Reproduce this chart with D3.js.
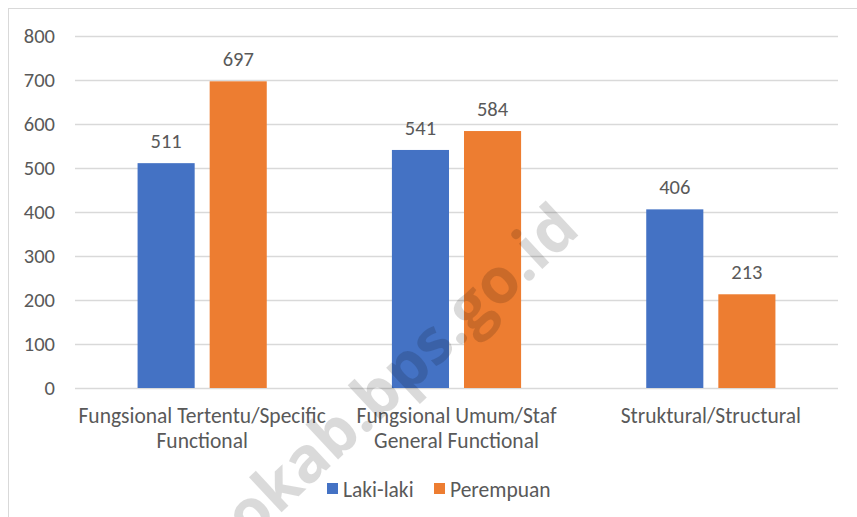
<!DOCTYPE html>
<html>
<head>
<meta charset="utf-8">
<script src="https://cdn.jsdelivr.net/npm/d3@7"></script>
<style>
  body { margin: 0; background: #fff; }
  svg { display: block; }
  text { font-family: Carlito, "Liberation Sans Narrow", "Open Sans", sans-serif; fill: #595959; }
</style>
</head>
<body>
<svg></svg>
<script>
const categories = [["Fungsional Tertentu/Specific", "Functional"], ["Fungsional Umum/Staf", "General Functional"], ["Struktural/Structural"]];
const series = ["Laki-laki", "Perempuan"];
const lakiLaki = [511, 541, 406];
const perempuan = [697, 584, 213];
const yTicks = [0, 100, 200, 300, 400, 500, 600, 700, 800];
const colors = ["#4472C4", "#ED7D31"];

let width = 857, height = 517;
let margin = {top: 36, bottom: 129, left: 75, right: 19};

let svg = d3.select("svg").attr("width", width).attr("height", height);

// chart border
svg.append("rect")
  .attr("x", 8.5).attr("y", 8.5)
  .attr("width", width + 10).attr("height", height + 10)
  .attr("fill", "none").attr("stroke", "#d9d9d9");

let catIdx = categories.map((c, i) => i);
let xScale = d3.scaleBand().domain(catIdx).range([margin.left, width - margin.right]).padding(0);
let xSub = d3.scaleBand().domain(series).range([0, xScale.bandwidth()]).paddingInner(0.208).paddingOuter(0.868);
let yScale = d3.scaleLinear().domain([0, 800]).range([height - margin.bottom, margin.top]);

// gridlines
svg.append("g").selectAll("line").data(yTicks).enter().append("line")
  .attr("x1", margin.left).attr("x2", width - margin.right)
  .attr("y1", d => Math.round(yScale(d)) + 0.5).attr("y2", d => Math.round(yScale(d)) + 0.5)
  .attr("stroke", "#d9d9d9").attr("stroke-width", 1.3);

// y labels
let yAxis = d3.axisLeft(yScale).tickValues(yTicks).tickSize(0).tickPadding(0);
let yg = svg.append("g").attr("transform", `translate(55, 0)`).call(yAxis);
yg.select(".domain").remove();
yg.selectAll("text").style("font-size", "20.5px").attr("fill", "#595959")
  .style("font-family", 'Carlito, "Liberation Sans Narrow", "Open Sans", sans-serif');

// bars
let data = [];
categories.forEach((c, i) => {
  data.push({cat: i, s: series[0], v: lakiLaki[i], c: colors[0]});
  data.push({cat: i, s: series[1], v: perempuan[i], c: colors[1]});
});

let bars = svg.append("g");
bars.selectAll("rect").data(data).enter().append("rect")
  .attr("x", d => xScale(d.cat) + xSub(d.s))
  .attr("y", d => yScale(d.v))
  .attr("width", xSub.bandwidth())
  .attr("height", d => yScale(0) - yScale(d.v))
  .attr("fill", d => d.c);

bars.selectAll("text").data(data).enter().append("text")
  .attr("x", d => xScale(d.cat) + xSub(d.s) + xSub.bandwidth() / 2)
  .attr("y", d => yScale(d.v) - 15)
  .attr("text-anchor", "middle")
  .style("font-size", "20.5px")
  .text(d => d.v);

// category labels
let cg = svg.append("g").selectAll("text").data(categories).enter().append("text")
  .attr("x", (d, i) => xScale(i) + xScale.bandwidth() / 2)
  .attr("y", 423)
  .attr("text-anchor", "middle")
  .style("font-size", "21.5px");
cg.selectAll("tspan").data(d => d).enter().append("tspan")
  .attr("x", function() { return d3.select(this.parentNode).attr("x"); })
  .attr("dy", (d, i) => i === 0 ? 0 : 25)
  .text(d => d);

// legend
let legX = [327, 434];
let lg = svg.append("g");
series.forEach((s, i) => {
  lg.append("rect").attr("x", legX[i]).attr("y", 483).attr("width", 11).attr("height", 11).attr("fill", colors[i]);
  lg.append("text").attr("x", legX[i] + 16).attr("y", 497).style("font-size", "21.5px").text(s);
});

// watermark
svg.append("text")
  .attr("transform", "translate(582,232) rotate(-43)")
  .attr("text-anchor", "end")
  .style("font-size", "63px").style("font-weight", "bold")
  .style("fill", "#000").style("opacity", 0.14)
  .style("font-family", "'Open Sans', sans-serif")
  .text("bojonegorokab.bps.go.id");
</script>
</body>
</html>
